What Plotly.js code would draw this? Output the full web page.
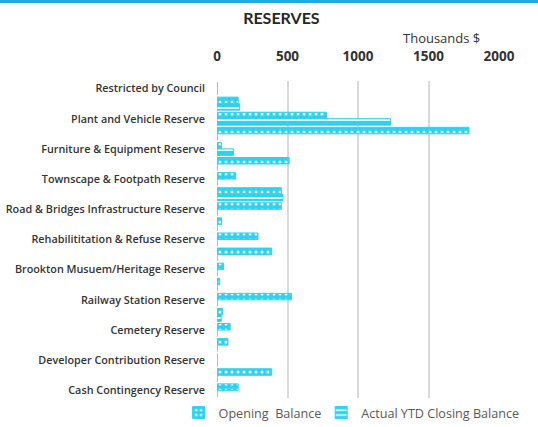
<!DOCTYPE html>
<html>
<head>
<meta charset="utf-8">
<script src="https://cdn.plot.ly/plotly-3.0.1.min.js"></script>
<style>
  html, body { margin: 0; padding: 0; background: #ffffff; }
  #topbar { position: absolute; left: 0; top: 0; width: 538px; height: 3px; background: #1fa8ea; }
  #chart { width: 538px; height: 427px; }
</style>
</head>
<body>
<div id="chart"></div>
<div id="topbar"></div>
<script>
// Rows of the chart (Excel shows only every other label)
const rowLabels = [
  "Restricted by Council", "",
  "Plant and Vehicle Reserve", "",
  "Furniture & Equipment Reserve", "",
  "Townscape & Footpath Reserve", "",
  "Road & Bridges Infrastructure Reserve", "",
  "Rehabilititation & Refuse Reserve", "",
  "Brookton Musuem/Heritage Reserve", "",
  "Railway Station Reserve", "",
  "Cemetery Reserve", "",
  "Developer Contribution Reserve", "",
  "Cash Contingency Reserve"
];
// Values in thousands $
const openingBalance = [0, 150, 776, 1787, 31, 511, 133, 456, 456, 33, 291, 388, 47, 19, 528, 38, 93, 78, 0, 388, 150];
const actualYTDClosing = [0, 161, 1230, 0, 118, 0, 0, 468, 0, 0, 0, 0, 0, 0, 0, 30, 0, 0, 0, 0, 0];
const xTicks = [0, 500, 1000, 1500, 2000];

const rowIndex = rowLabels.map((_, i) => i);
const tickVals = rowIndex.filter(i => rowLabels[i] !== "");
const tickText = tickVals.map(i => rowLabels[i]);

const cyan = "#2cd3f1";
const traces = [
  {
    type: "bar", orientation: "h", name: "Opening  Balance", legend: "legend",
    x: openingBalance, y: rowIndex,
    marker: { color: cyan, line: { color: cyan, width: 1 },
      pattern: { shape: ".", fgcolor: "#ffffff", bgcolor: cyan, size: 6, solidity: 0.2 } }
  },
  {
    type: "bar", orientation: "h", name: "Actual YTD Closing Balance", legend: "legend2",
    x: actualYTDClosing, y: rowIndex,
    marker: { color: cyan, line: { color: cyan, width: 1 },
      pattern: { shape: "-", fgcolor: "#ffffff", bgcolor: cyan, size: 6, solidity: 0.3 } }
  }
];

const legendFont = { family: "'Open Sans', sans-serif", size: 12.6, color: "#595959" };

const layout = {
  width: 538, height: 427,
  margin: { l: 217, r: 39, t: 81, b: 27 },
  paper_bgcolor: "#ffffff", plot_bgcolor: "#ffffff",
  barmode: "group", bargap: 0.14, bargroupgap: 0,
  showlegend: true,
  title: { text: "<b>RESERVES</b>", x: 0.523, xanchor: "center", yref: "container", y: 0.958, yanchor: "middle",
    font: { family: "Lato, 'Open Sans', sans-serif", size: 16, color: "#262626" } },
  font: { family: "'Open Sans', sans-serif", color: "#404040" },
  xaxis: {
    side: "top", range: [0, 2000], tickvals: xTicks, ticktext: xTicks.map(String),
    showgrid: true, gridcolor: "#d9d9d9", gridwidth: 2, zeroline: false,
    showline: false, ticks: "", ticklabelstandoff: 16,
    tickfont: { family: "'Open Sans', sans-serif", size: 13.5, color: "#333333", weight: "bold" },
    fixedrange: true
  },
  yaxis: {
    range: [20.5, -0.5], tickvals: tickVals, ticktext: tickText,
    showgrid: false, zeroline: false, showline: false, ticks: "", ticklabelstandoff: 11,
    tickfont: { family: "'Open Sans', sans-serif", size: 10.8, color: "#333333", weight: 600 },
    fixedrange: true
  },
  legend: {
    orientation: "h", xref: "container", yref: "container",
    x: 0.332, xanchor: "left", y: 0.033, yanchor: "middle",
    font: legendFont, itemwidth: 30, bgcolor: "rgba(0,0,0,0)"
  },
  legend2: {
    orientation: "h", xref: "container", yref: "container",
    x: 0.597, xanchor: "left", y: 0.033, yanchor: "middle",
    font: legendFont, itemwidth: 30, bgcolor: "rgba(0,0,0,0)"
  },
  annotations: [
    { text: "Thousands $", xref: "paper", yref: "paper", x: 0.795, y: 1.135,
      xanchor: "center", yanchor: "middle", showarrow: false,
      font: { family: "'Open Sans', sans-serif", size: 13, color: "#333333" } }
  ]
};

Plotly.newPlot("chart", traces, layout, { displayModeBar: false, staticPlot: true });
</script>
</body>
</html>
